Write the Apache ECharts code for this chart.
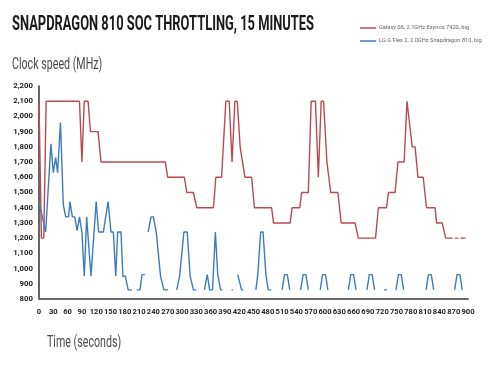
<!DOCTYPE html>
<html>
<head>
<meta charset="utf-8">
<script src="https://cdn.jsdelivr.net/npm/echarts@6/dist/echarts.min.js"></script>
<style>
  html, body { margin: 0; padding: 0; background: #fff; }
  #chart { width: 500px; height: 375px; }
</style>
</head>
<body>
<div id="chart"></div>
<script>
var seriesNames = ['Galaxy S6, 2.1GHz Exynos 7420, big', 'LG G Flex 2, 2.0GHz Snapdragon 810, big']

// Galaxy S6 – time (s) / clock (MHz) at each corner of the line
var galaxyTime = [0, 5, 10, 15, 85, 90, 95, 103, 108, 124, 130, 265, 270, 305, 310, 324, 331, 366, 371, 383,
  392, 399, 405, 411, 416, 422, 426, 432, 446, 452, 488, 492, 527, 531, 547, 551, 565, 571, 580, 586,
  592, 597, 604, 608, 612, 627, 634, 663, 670, 706, 712, 729, 733, 747, 753, 766, 772, 776, 783, 789,
  795, 806, 813, 831, 834, 846, 853, 868, 870, 872, 880, 882, 884, 895]
var galaxyMhz = [2100, 1200, 1200, 2100, 2100, 1700, 2100, 2100, 1900, 1900, 1700, 1700, 1600, 1600, 1500, 1500, 1400, 1400, 1600, 1600,
  2100, 2100, 1700, 2100, 2100, 1800, 1800, 1600, 1600, 1400, 1400, 1300, 1300, 1400, 1400, 1500, 1500, 2100, 2100, 1600,
  2100, 2100, 1700, 1700, 1500, 1500, 1300, 1300, 1200, 1200, 1400, 1400, 1500, 1500, 1700, 1700, 2100, 2100, 1800, 1800,
  1600, 1600, 1400, 1400, 1300, 1300, 1200, 1200, null, 1200, 1200, null, 1200, 1200]

// LG G Flex 2 – null = no sample (line breaks)
var flexTime = [0, 14, 25, 30, 35, 39, 45, 51, 56, 62, 65, 70, 75, 80, 85, 90, 95, 100, 104, 109,
  120, 125, 135, 145, 151, 156, 161, 165, 172, 176, 181, 187, 195, 200,
  205, 212, 216, 222, 225,
  229, 235, 240, 246, 250, 255, 262, 271, 280,
  289, 295, 304, 311, 317, 324, 330, 340,
  347, 353, 358, 364, 370, 375, 381, 385, 395,
  404, 407, 412,
  417, 421, 425, 429, 440,
  455, 459, 465, 470, 476, 481, 487, 500,
  510, 515, 521, 526, 540,
  549, 554, 560, 565, 580,
  590, 595, 601, 606, 620,
  649, 654, 660, 665, 680,
  688, 693, 699, 704, 715,
  724, 730, 740,
  749, 754, 760, 765, 790,
  812, 817, 823, 828, 850,
  872, 877, 883, 888]
var flexMhz = [1440, 1240, 1820, 1630, 1730, 1630, 1960, 1420, 1340, 1340, 1440, 1340, 1340, 1250, 1340, 1240, 950, 1340, 1340, 950,
  1440, 1240, 1240, 1440, 1240, 1240, 950, 1240, 1240, 950, 950, 860, 860, null,
  860, 860, 960, 960, null,
  1240, 1340, 1340, 1240, 1240, 950, 860, 860, null,
  860, 950, 1240, 1240, 950, 860, 860, null,
  860, 960, 860, 860, 1240, 960, 860, 860, null,
  860, 860, null,
  960, 960, 860, 860, null,
  860, 960, 1240, 1240, 960, 860, 860, null,
  860, 960, 960, 860, null,
  860, 960, 960, 860, null,
  860, 960, 960, 860, null,
  860, 960, 960, 860, null,
  860, 960, 960, 860, null,
  860, 860, null,
  860, 960, 960, 860, null,
  860, 960, 960, 860, null,
  860, 960, 960, 860]

var yTicks = [800, 900, 1000, 1100, 1200, 1300, 1400, 1500, 1600, 1700, 1800, 1900, 2000, 2100, 2200]

function pairs(ts, vs){
	var out = []
	for (var i = 0; i < ts.length; i++) {
		out.push([ts[i], vs[i] == null ? '-' : vs[i]])
	}
	return out
}

var chart = echarts.init(document.getElementById('chart'))
var sans = 'Roboto, "Noto Sans", sans-serif'

var option = {
    backgroundColor: '#fff',
    animation: false,
    color: ['#b94a52', '#3b7cbd'],
    graphic: [
        {
            type: 'text', left: 12, top: 15, scaleX: 0.86, scaleY: 1.35,
            style: { text: 'SNAPDRAGON 810 SOC THROTTLING, 15 MINUTES', font: 'bold 15px ' + sans, fill: '#1a1a1a' }
        },
        {
            type: 'text', left: 12, top: 57, scaleX: 0.82, scaleY: 1.2,
            style: { text: 'Clock speed (MHz)', font: '13px ' + sans, fill: '#4a4a4a' }
        },
        {
            type: 'text', left: 47, top: 335, scaleX: 0.82, scaleY: 1.2,
            style: { text: 'Time (seconds)', font: '13px ' + sans, fill: '#4a4a4a' }
        }
    ],
    legend: {
        orient: 'vertical',
        left: 355, top: 20,
        itemWidth: 16, itemHeight: 1.5, itemGap: 7,
        icon: 'rect',
        textStyle: { fontSize: 5.7, color: '#666', fontFamily: sans, padding: [0, 0, 0, -2] },
        data: seriesNames
    },
    grid: { left: 39, right: 32, top: 86, bottom: 76 },
    xAxis: {
        type: 'value',
        min: 0, max: 900, interval: 30,
        axisLine: { lineStyle: { color: '#6a6a6a', width: 2 } },
        axisTick: { show: false },
        splitLine: { show: false },
        axisLabel: {
            interval: 0, hideOverlap: false, margin: 9,
            fontSize: 7.6, fontWeight: 'bold', color: '#222', fontFamily: sans
        }
    },
    yAxis: {
        type: 'value',
        min: yTicks[0], max: yTicks[yTicks.length - 1], interval: 100,
        axisLine: { show: true, lineStyle: { color: '#333', width: 1.5 } },
        axisTick: { show: false },
        splitLine: { show: false },
        axisLabel: {
            margin: 6, fontSize: 7.8, fontWeight: 'bold', color: '#222', fontFamily: sans,
            formatter: function(v){ return v >= 1000 ? Math.floor(v / 1000) + ',' + String(v % 1000).padStart(3, '0') : String(v) }
        }
    },
    series: [
        {
            name: seriesNames[0], type: 'line', showSymbol: false, connectNulls: false,
            lineStyle: { width: 1.4 },
            data: pairs(galaxyTime, galaxyMhz)
        },
        {
            name: seriesNames[1], type: 'line', showSymbol: false, connectNulls: false,
            lineStyle: { width: 1.4 },
            data: pairs(flexTime, flexMhz)
        }
    ]
}

chart.setOption(option)
</script>
</body>
</html>
